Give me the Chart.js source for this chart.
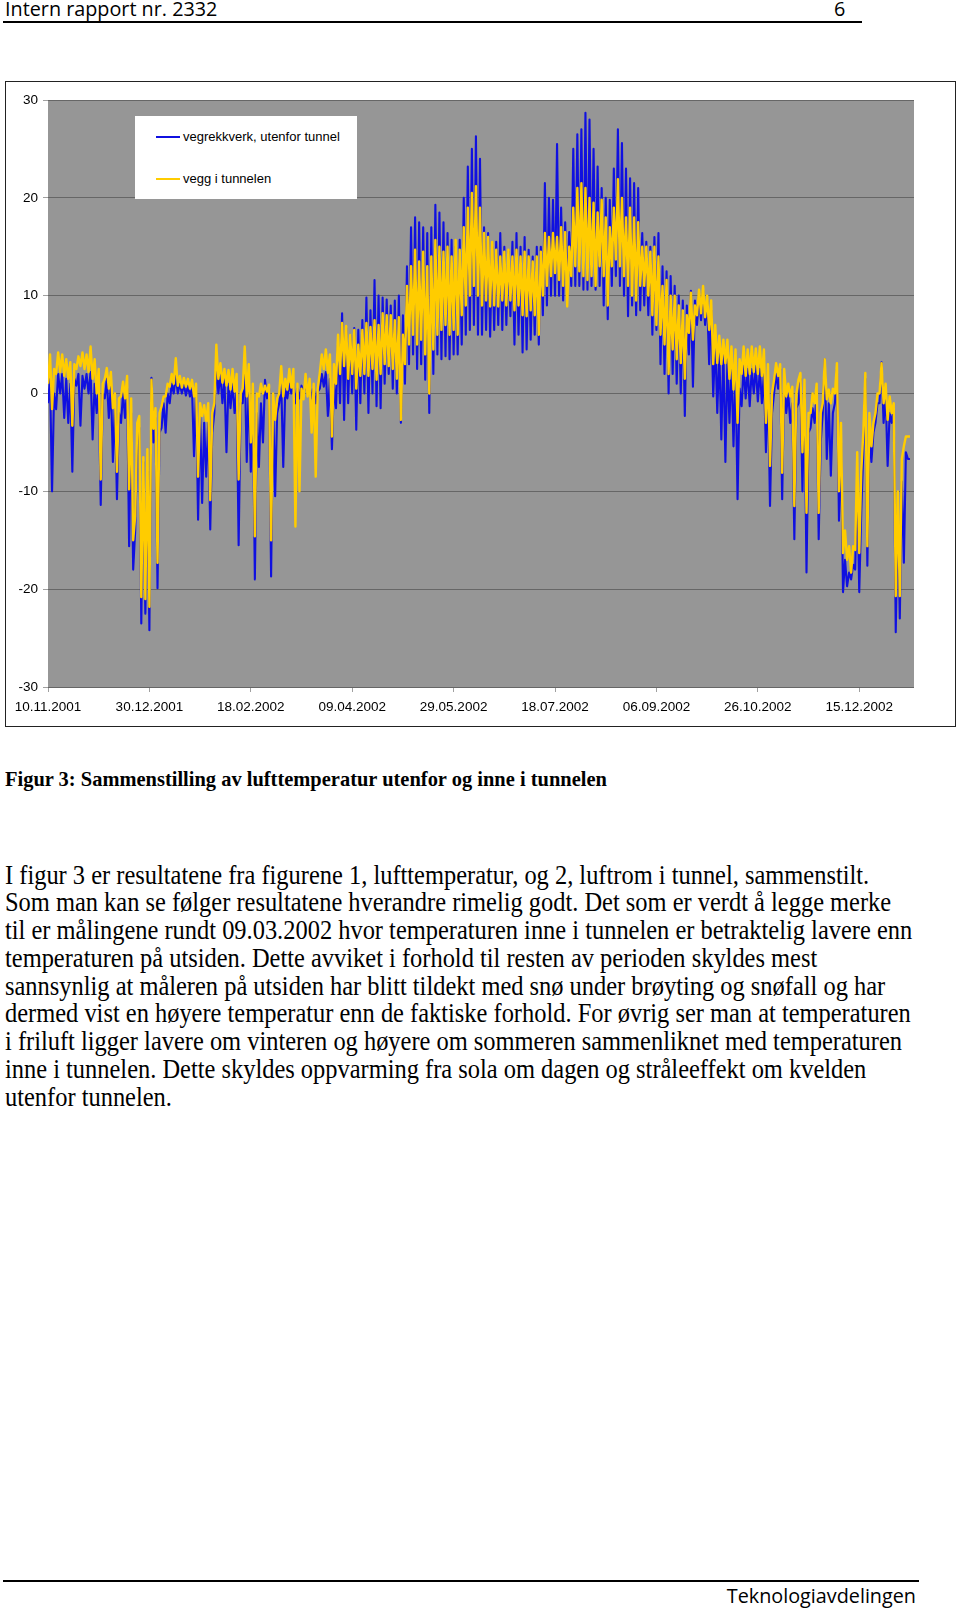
<!DOCTYPE html>
<html lang="no">
<head>
<meta charset="utf-8">
<title>Intern rapport nr. 2332 - Figur 3</title>
<script src="https://cdn.jsdelivr.net/npm/chart.js@4.4.1/dist/chart.umd.min.js"></script>
<style>
  html, body { margin: 0; padding: 0; background: #fff; }
  body { width: 960px; height: 1610px; position: relative; overflow: hidden; }
  .sans { position: absolute; font-family: 'Open Sans', sans-serif; font-size: 19.8px; line-height: 1; color: #000; white-space: nowrap; }
  .serif { position: absolute; left: 5px; font-family: 'Liberation Serif', 'Times New Roman', serif; line-height: 1; color: #000; white-space: nowrap; transform-origin: 0 50%; }
  .para { font-size: 27px; transform: scaleX(0.905); }
  .caption { font-size: 22px; font-weight: bold; transform: scaleX(0.93); }
  .rule { position: absolute; background: #000; }
  #frame { position: absolute; left: 5px; top: 81px; width: 951px; height: 646px; box-sizing: border-box; border: 1px solid #222; }
  #chartBox { position: absolute; left: 6px; top: 82px; width: 949px; height: 644px; }
  #legend { position: absolute; left: 135px; top: 116px; width: 222px; height: 83px; background: #fff; z-index: 2; }
  .key { position: absolute; left: 21px; height: 13px; display: flex; align-items: center; font-family: 'Liberation Sans', Arial, sans-serif; font-size: 13px; line-height: 13px; color: #000; white-space: nowrap; }
  .swatch { display: inline-block; width: 24px; height: 2px; margin-right: 3px; }
</style>
</head>
<body>

<div class="sans" style="left:5px; top:-1px;">Intern rapport nr. 2332</div>
<div class="sans" style="left:834px; top:-1px;">6</div>
<div class="rule" style="left:3px; top:21px; width:859px; height:2px;"></div>

<div id="frame"></div>
<div id="chartBox"><canvas id="tempChart" width="949" height="644"></canvas></div>
<div id="legend">
  <div class="key" style="top:14px;"><span class="swatch" style="background:#1010e0;"></span><span>vegrekkverk, utenfor tunnel</span></div>
  <div class="key" style="top:56px;"><span class="swatch" style="background:#ffcc00;"></span><span>vegg i tunnelen</span></div>
</div>

<div class="serif caption" style="top:768px;">Figur 3: Sammenstilling av lufttemperatur utenfor og inne i tunnelen</div>

<div class="serif para" style="top:861.5px;">I figur 3 er resultatene fra figurene 1, lufttemperatur, og 2, luftrom i tunnel, sammenstilt.</div>
<div class="serif para" style="top:889.3px;">Som man kan se følger resultatene hverandre rimelig godt. Det som er verdt å legge merke</div>
<div class="serif para" style="top:917px;">til er målingene rundt 09.03.2002 hvor temperaturen inne i tunnelen er betraktelig lavere enn</div>
<div class="serif para" style="top:944.8px;">temperaturen på utsiden. Dette avviket i forhold til resten av perioden skyldes mest</div>
<div class="serif para" style="top:972.5px;">sannsynlig at måleren på utsiden har blitt tildekt med snø under brøyting og snøfall og har</div>
<div class="serif para" style="top:1000.3px;">dermed vist en høyere temperatur enn de faktiske forhold. For øvrig ser man at temperaturen</div>
<div class="serif para" style="top:1028px;">i friluft ligger lavere om vinteren og høyere om sommeren sammenliknet med temperaturen</div>
<div class="serif para" style="top:1055.8px;">inne i tunnelen. Dette skyldes oppvarming fra sola om dagen og stråleeffekt om kvelden</div>
<div class="serif para" style="top:1083.5px;">utenfor tunnelen.</div>

<div class="rule" style="left:3px; top:1580px; width:916px; height:1.5px;"></div>
<div class="sans" style="right:44px; top:1586px;">Teknologiavdelingen</div>

<script>
// x axis: days counted from 10.11.2001, one label every 50 days
const dateLabels = ['10.11.2001', '30.12.2001', '18.02.2002', '09.04.2002', '29.05.2002',
    '18.07.2002', '06.09.2002', '26.10.2002', '15.12.2002'];
const labelStep = 50;
const axisDays = 427;

// readings in two-day blocks: the low of day 2k and the high of day 2k+1
const outsideLow = [
    -1, -10, -1.6, 0, -2.5, -3, -8, 0.8, -3.3, 0.5,
    0, -4.7, -2, -11.4, -0.5, -2.5, -7, -10.8, -3, -2.5,
    -15.6, -18, -5, -23.5, -22.5, -24.2, -5, -19.9, -3.5, -4,
    -1, 0, 0, 0, -0.2, -0.3, -6.4, -12.9, -11.2, -8.5,
    -13.9, -2, 0, -1, -6, -1.5, -2, -15.5, -1, -7,
    -8, -19, -7.5, -5, -0.5, -18.7, -10.5, -1, -7.5, -0.5,
    0, -1, -0.5, 0, 0, -0.5, -1, 0.5, 0.7, -2.3,
    -5.7, -1.5, -1, -2.7, -1, 0, -3.7, -1, 0, -2,
    0, -1.3, -1.5, 1, 2, 0.5, 0, -3, 1, 3,
    4, 2.5, 3, 1.4, -2, 2, 4, 3.5, 3.8, 3.5,
    4, 4, 5, 6, 6.5, 7, 6, 6, 6.5, 5.8,
    6.5, 7, 6.5, 7, 7.9, 5, 6, 4.2, 4.5, 5.5,
    6, 5, 8, 9, 10, 10, 10, 9.5, 10.6, 11,
    11, 11, 10.6, 10.6, 11, 10.6, 11, 9, 7.6, 11,
    12, 11, 10, 7.9, 9, 8, 8.5, 9, 8, 6,
    6.5, 3, 2, 0, 2, 1, 0, -2.3, 4, 0.7,
    7, 7.5, 7, 3, -0.3, -2, -4.7, -7, -3, -5.4,
    -10.8, -1.3, -0.5, -1.3, 0, -0.8, -1, -6, -11.5, 0,
    0.5, -10.8, -2, -3, -14.9, -1, -10, -18.3, -3.5, -3,
    -14.9, -2, -6.7, -8.4, -1, -13, -20.3, -19.7, -19, -18,
    -20.3, -6, -17.6, -7, -3, -1, -3, -7.4, -3, -24.4,
    -23, -17.3, -6.7
];
const outsideHigh = [
    1.5, 0, 2, 2, 1.5, 1, 1.5, 2, 1.8, 2,
    2.2, 1, 0.5, 0, 1.5, 1, -1, -2, 0, 0.5,
    -2, -14, -3.5, -7, -8, 1.6, -2.5, -4, -1, 0,
    1, 1.8, 1, 0.9, 0.8, 0.6, 0.3, -2, -3, -3,
    -4, 3.1, 2, 1.5, 1, 1, 0.5, -1, 3, 1,
    -1, -2, -1, 1.4, 0.5, -1, -2, 1, 0.5, 1,
    1, 0.5, 0.8, 1, 0.8, 0.5, 0.2, 2, 2.2, 1.5,
    1, 5, 8.2, 6.7, 6, 6.7, 6.5, 7.5, 9.8, 8.5,
    11.6, 10, 9.8, 9.6, 9, 9.5, 10, 8, 13, 17,
    18, 17.5, 17, 16.4, 17, 19.3, 18.5, 17.5, 16.4, 15.7,
    15, 15.7, 20, 23.2, 25, 26.3, 24, 17, 16.4, 15,
    15.5, 16.4, 15, 14.5, 15.5, 16.4, 15, 16, 14.7, 14,
    15, 15, 21.5, 20, 19.8, 25.5, 19, 17.5, 16.5, 25,
    26.5, 27, 28.7, 28, 25, 23.2, 21, 20, 19.8, 23,
    27, 25.6, 23, 22, 21.5, 21, 16.4, 15.5, 15, 16,
    16.4, 13, 12.5, 12, 11, 10, 9.5, 9, 10.5, 9.5,
    10, 10.5, 9.5, 8.5, 5.5, 4.5, 4.5, 3.5, 3, 2.5,
    0.5, 2.8, 2.5, 2.5, 2.8, 2.5, 2, 1, -2, 2,
    2.5, 1.5, 0, -1, -1.5, 1.5, 0, -4, -1.5, 0,
    -5, 3.5, -1, -2, 2.5, -5, -17, -18.3, -17.5, -9,
    -12, 1.5, -4, -4, -1, 3.2, 0, -2, -1.5, -12,
    -9, -6, -6.7
];
const insideLow = [
    1, -1.6, 2, 2.2, 1.8, 1.5, -3.3, 2.5, 2.8, 2.5,
    2.2, 1.5, 0, -8.8, 1.5, 0.5, -1.5, -8, -0.3, -0.5,
    -9.8, -15, -3, -20.8, -21, -21.8, -3.6, -17.3, -1.3, -0.3,
    0.7, 1, 0.8, 0.6, 0.7, 0.5, -0.3, -8.5, -2.3, -2.8,
    -10.9, -1, 1.5, 1.1, 0.8, 0.4, 0.2, -8.8, 0.5, -0.3,
    -5, -14.6, -0.3, 0, 0.2, -15, -2.7, 0, -0.3, 0.4,
    0.6, -13.6, -10, -0.6, -0.3, -4, -8.5, 2.1, 2.5, 2.1,
    -4.4, 1, 2, 2.8, 1.5, 2, 0.5, 1.8, 2, 1.8,
    2.5, 1.4, 2, 3, 2.8, 2.5, 1.5, -2.7, 3, 5,
    6, 5, 5.5, 4, 0, 4.5, 6, 6.5, 7, 6,
    6.5, 6, 8, 9, 10, 11, 10, 9, 9.5, 8.9,
    9, 8.9, 9.5, 9, 9.5, 8.5, 9, 8, 7.9, 8.5,
    8, 6, 10, 11, 12, 12.3, 11.6, 11, 8.9, 12,
    13, 12.5, 12, 11.6, 12, 11, 13, 12, 9, 13,
    13.7, 13, 12, 11, 10, 9.5, 11, 11, 10, 8,
    7, 6, 5, 2, 4.5, 3.5, 3.1, 1.5, 6.2, 5.5,
    8, 8.2, 7.8, 6.5, 3, 3.1, 3, 3.1, 1.5, 0.4,
    -3, 2, 1.8, 2, 2.2, 2, 1.8, -3, -7.4, 1.4,
    1.8, -8.1, -0.3, -0.3, -11.5, 1.4, -6, -12.2, -2, -1,
    -12.2, -1, -0.6, -1, 0, -10, -16.3, -17, -18.3, -16,
    -16.3, -4, -15.6, -5.4, -2, 0, -1, -2.7, -2, -20.7,
    -20.7, -5.4, -4.4
];
const insideHigh = [
    4, 2.5, 4.2, 4, 3.5, 3.2, 3, 3.8, 4.2, 4,
    4.8, 3.5, 2.5, 1, 2.6, 2.2, 0, -0.5, 1.2, 1.8,
    -0.5, -12.5, -2.3, -6.5, -5.7, 1.4, -1.5, -2, -0.3, 1,
    2, 3.6, 1.8, 1.6, 1.5, 1.4, 1, -1, -1.2, -1,
    -2, 5, 3.1, 2.5, 2.4, 2.5, 2, 0, 4.8, 3,
    1, 0, 1, 0.8, 0.9, 0, -0.5, 2.8, 1.5, 2.5,
    2.5, 1, 0.5, 2, 1.5, 1, 0.5, 4, 4.5, 4,
    3, 6, 7.2, 6.9, 6, 6.5, 5, 6.5, 7.2, 6.8,
    7.5, 7, 8.2, 8, 8, 7.5, 7.8, 6, 11, 13,
    14.7, 13.5, 14.5, 13, 14, 15.7, 15, 14.5, 15, 14,
    15.7, 14.7, 17, 19, 20.5, 21.2, 19, 16.4, 16, 15.5,
    14.7, 14, 14.5, 14.7, 14, 14.7, 14, 14.5, 14, 13.5,
    14, 14.5, 16.4, 16, 16.4, 16, 17, 16.5, 15, 19,
    21, 21.5, 21, 20, 19.5, 18.5, 19.8, 18, 17, 19,
    21.9, 20, 18, 19, 18, 17.5, 15, 15, 14.5, 15,
    14, 11, 11.6, 10, 10, 9, 8.5, 8, 10.3, 9,
    10.6, 11, 10, 9.5, 7, 5.9, 5.5, 5.5, 4.8, 4.5,
    3.5, 4.8, 4.5, 4.8, 4.6, 4.8, 4.5, 3, 0, 3.1,
    3, 2.5, 1, 0.7, 0, 2.1, 1.4, -2, 0, 1,
    -2, 3.5, 0.4, 0.5, 3.1, -3, -14, -15.6, -15.6, -6,
    -8, 2.1, -2, -3, 0, 3.1, 1, -0.3, -1, -10,
    -6.7, -4.4, -4.4
];

document.addEventListener('DOMContentLoaded', function() {
    // put each block's low on the even day and its high on the odd day
    function dailySwing(lows, highs) {
        const points = [];
        lows.forEach((low, k) => {
            points.push({ x: 2 * k, y: low });
            points.push({ x: 2 * k + 1, y: highs[k] });
        });
        return points;
    }

    // grey plot area like the Excel original
    const plotBackground = {
        id: 'plotBackground',
        beforeDraw(chart) {
            const { ctx, chartArea: a } = chart;
            ctx.save();
            ctx.fillStyle = '#969696';
            ctx.fillRect(a.left, a.top, a.width, a.height);
            ctx.restore();
        }
    };

    Chart.defaults.font.family = "'Liberation Sans', Arial, sans-serif";
    Chart.defaults.font.size = 13.5;
    Chart.defaults.color = '#000';

    const ctx = document.getElementById('tempChart').getContext('2d');
    new Chart(ctx, {
        type: 'line',
        data: {
            datasets: [
                {
                    label: 'vegrekkverk, utenfor tunnel',
                    data: dailySwing(outsideLow, outsideHigh),
                    borderColor: '#1010e0',
                    borderWidth: 2.1,
                    pointRadius: 0,
                    borderJoinStyle: 'round',
                    order: 1
                },
                {
                    label: 'vegg i tunnelen',
                    data: dailySwing(insideLow, insideHigh),
                    borderColor: '#ffcc00',
                    borderWidth: 2.4,
                    pointRadius: 0,
                    borderJoinStyle: 'round',
                    order: 0
                }
            ]
        },
        options: {
            responsive: false,
            animation: false,
            events: [],
            parsing: false,
            layout: { padding: { top: 18, right: 41, left: 0, bottom: 0 } },
            plugins: {
                legend: { display: false },
                tooltip: { enabled: false }
            },
            scales: {
                x: {
                    type: 'linear',
                    min: 0,
                    max: axisDays,
                    afterBuildTicks: (scale) => {
                        scale.ticks = dateLabels.map((_, i) => ({ value: i * labelStep }));
                    },
                    afterFit: (scale) => { scale.height = 39; },
                    grid: { drawOnChartArea: false, tickLength: 5, tickColor: '#a0a0a0' },
                    border: { display: false },
                    ticks: {
                        autoSkip: false,
                        maxRotation: 0,
                        padding: 7,
                        callback: (value) => dateLabels[Math.round(value / labelStep)]
                    }
                },
                y: {
                    min: -30,
                    max: 30,
                    afterFit: (scale) => { scale.width = 42; },
                    grid: { color: '#666', lineWidth: 1, tickLength: 5, tickColor: '#a0a0a0' },
                    border: { display: false },
                    ticks: { stepSize: 10, padding: 5 }
                }
            }
        },
        plugins: [plotBackground]
    });
});
</script>
</body>
</html>
